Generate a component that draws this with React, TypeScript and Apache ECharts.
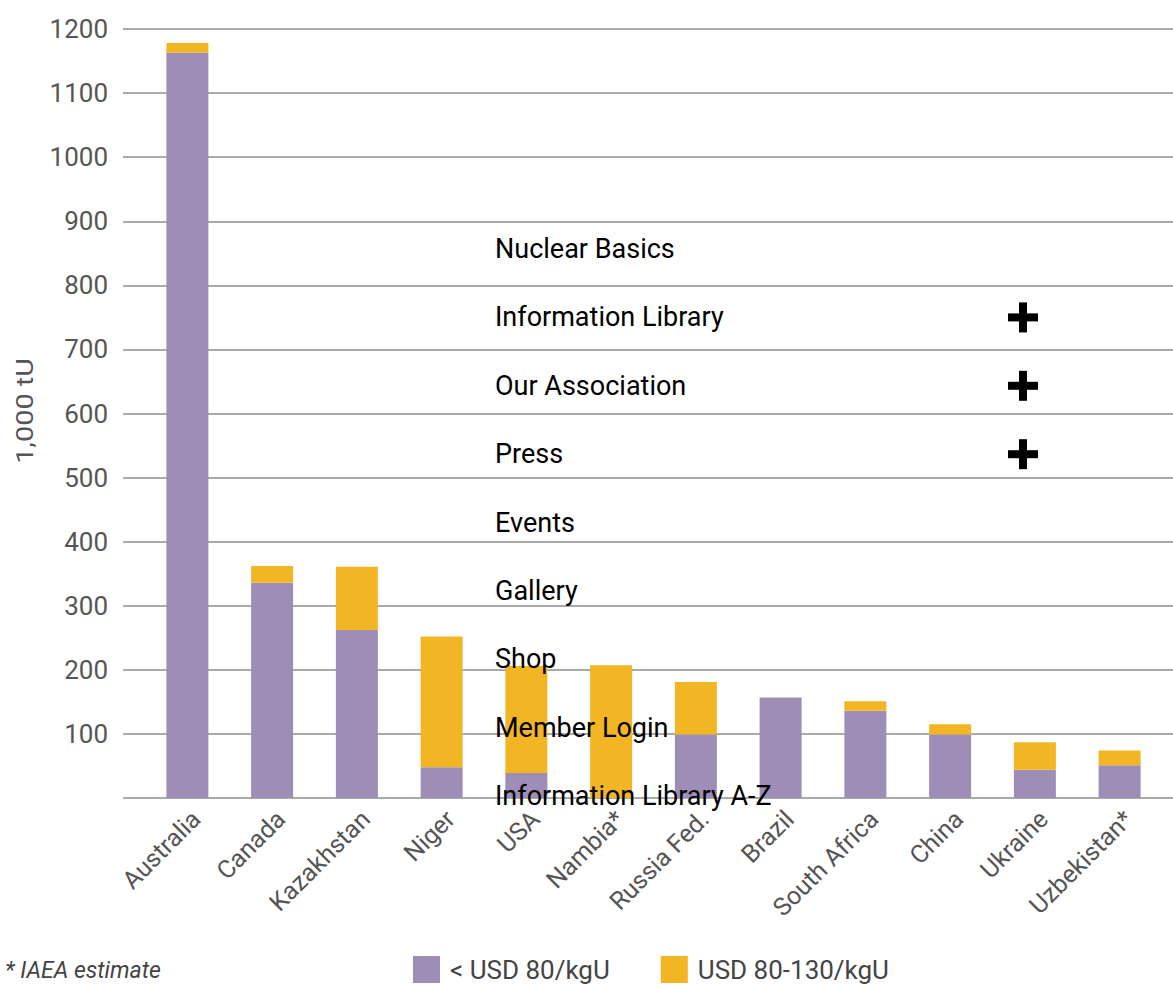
import React, { useEffect, useRef } from "react";
import * as echarts from "echarts";

const categories = [
  "Australia", "Canada", "Kazakhstan", "Niger", "USA", "Nambia*",
  "Russia Fed.", "Brazil", "South Africa", "China", "Ukraine", "Uzbekistan*",
];
const below80 = [1163, 336, 262, 48, 39, 0, 99, 157, 136, 99, 44, 51];
const from80to130 = [15, 26, 99, 204, 167, 207, 82, 0, 15, 16, 43, 23];
const seriesNames = ["< USD 80/kgU", "USD 80-130/kgU"];
const menuItems = [
  "Nuclear Basics", "Information Library", "Our Association", "Press",
  "Events", "Gallery", "Shop", "Member Login", "Information Library A-Z",
];
const menuHasPlus = [false, true, true, true, false, false, false, false, false];
const yAxisTitle = "1,000 tU";
const footnote = "* IAEA estimate";

const PURPLE = "#9E8DB6";
const YELLOW = "#F2B624";
const FONT = "Roboto";

export default function App() {
  const ref = useRef<HTMLDivElement>(null);
  useEffect(() => {
    if (!ref.current) return;
    const chart = echarts.init(ref.current, null, { renderer: "svg" });
    const menuTop = 249;
    const menuStep = 68.4;
    const graphics: any[] = [];
    menuItems.forEach((m, i) => {
      const cy = menuTop + i * menuStep;
      graphics.push({
        type: "text",
        x: 495,
        y: cy,
        style: { text: m, fill: "#000", font: `27px ${FONT}`, verticalAlign: "middle" },
        z: 100,
      });
      if (menuHasPlus[i]) {
        graphics.push({
          type: "group",
          z: 100,
          children: [
            { type: "rect", shape: { x: 1008, y: cy - 4, width: 30, height: 8 }, style: { fill: "#000" } },
            { type: "rect", shape: { x: 1019, y: cy - 15, width: 8, height: 30 }, style: { fill: "#000" } },
          ],
        });
      }
    });
    graphics.push({
      type: "text",
      x: 5,
      y: 970,
      style: { text: footnote, fill: "#444", font: `italic 23px ${FONT}`, verticalAlign: "middle" },
    });
    graphics.push({
      type: "text",
      x: 24,
      y: 411,
      rotation: Math.PI / 2,
      scaleX: 1.2,
      style: { text: yAxisTitle, fill: "#555", font: `24px ${FONT}`, align: "center", verticalAlign: "middle" },
    });

    chart.setOption({
      animation: false,
      textStyle: { fontFamily: FONT },
      grid: [
        { left: 123, right: 0, top: 29, height: 769 },
        { left: 145, right: 11, top: 29, height: 769 },
      ],
      xAxis: [
        { gridIndex: 0, type: "value", min: 0, max: 1, show: false },
        {
          gridIndex: 1,
          type: "category",
          data: categories,
          axisLine: { show: false },
          axisTick: { show: false },
          axisLabel: {
            rotate: 45,
            fontSize: 25,
            color: "#555",
            margin: 8,
            interval: 0,
            verticalAlign: "top",
          },
        },
      ],
      yAxis: [
        {
          gridIndex: 0,
          type: "value",
          min: 0,
          max: 1200,
          interval: 100,
          axisLine: { show: false },
          axisTick: { show: false },
          axisLabel: {
            fontSize: 26,
            color: "#555",
            margin: 15,
            showMinLabel: false,
            formatter: (v: number) => String(v),
          },
          splitLine: { lineStyle: { color: "#aaa", width: 2 } },
        },
        { gridIndex: 1, type: "value", min: 0, max: 1200, interval: 100, show: false },
      ],
      legend: {
        left: 413,
        top: 956,
        padding: 0,
        itemWidth: 27,
        itemHeight: 27,
        itemGap: 51,
        icon: "rect",
        data: seriesNames,
        textStyle: { fontSize: 26, color: "#444", padding: [0, 0, 0, 5] },
      },
      series: [
        {
          name: seriesNames[0],
          type: "bar",
          stack: "total",
          xAxisIndex: 1,
          yAxisIndex: 1,
          barWidth: 42,
          data: below80,
          itemStyle: { color: PURPLE },
        },
        {
          name: seriesNames[1],
          type: "bar",
          stack: "total",
          xAxisIndex: 1,
          yAxisIndex: 1,
          barWidth: 42,
          data: from80to130,
          itemStyle: { color: YELLOW },
        },
      ],
      graphic: graphics,
    });
    return () => chart.dispose();
  }, []);
  return <div ref={ref} style={{ width: 1173, height: 985, position: "absolute", left: 0, top: 0 }} />;
}
